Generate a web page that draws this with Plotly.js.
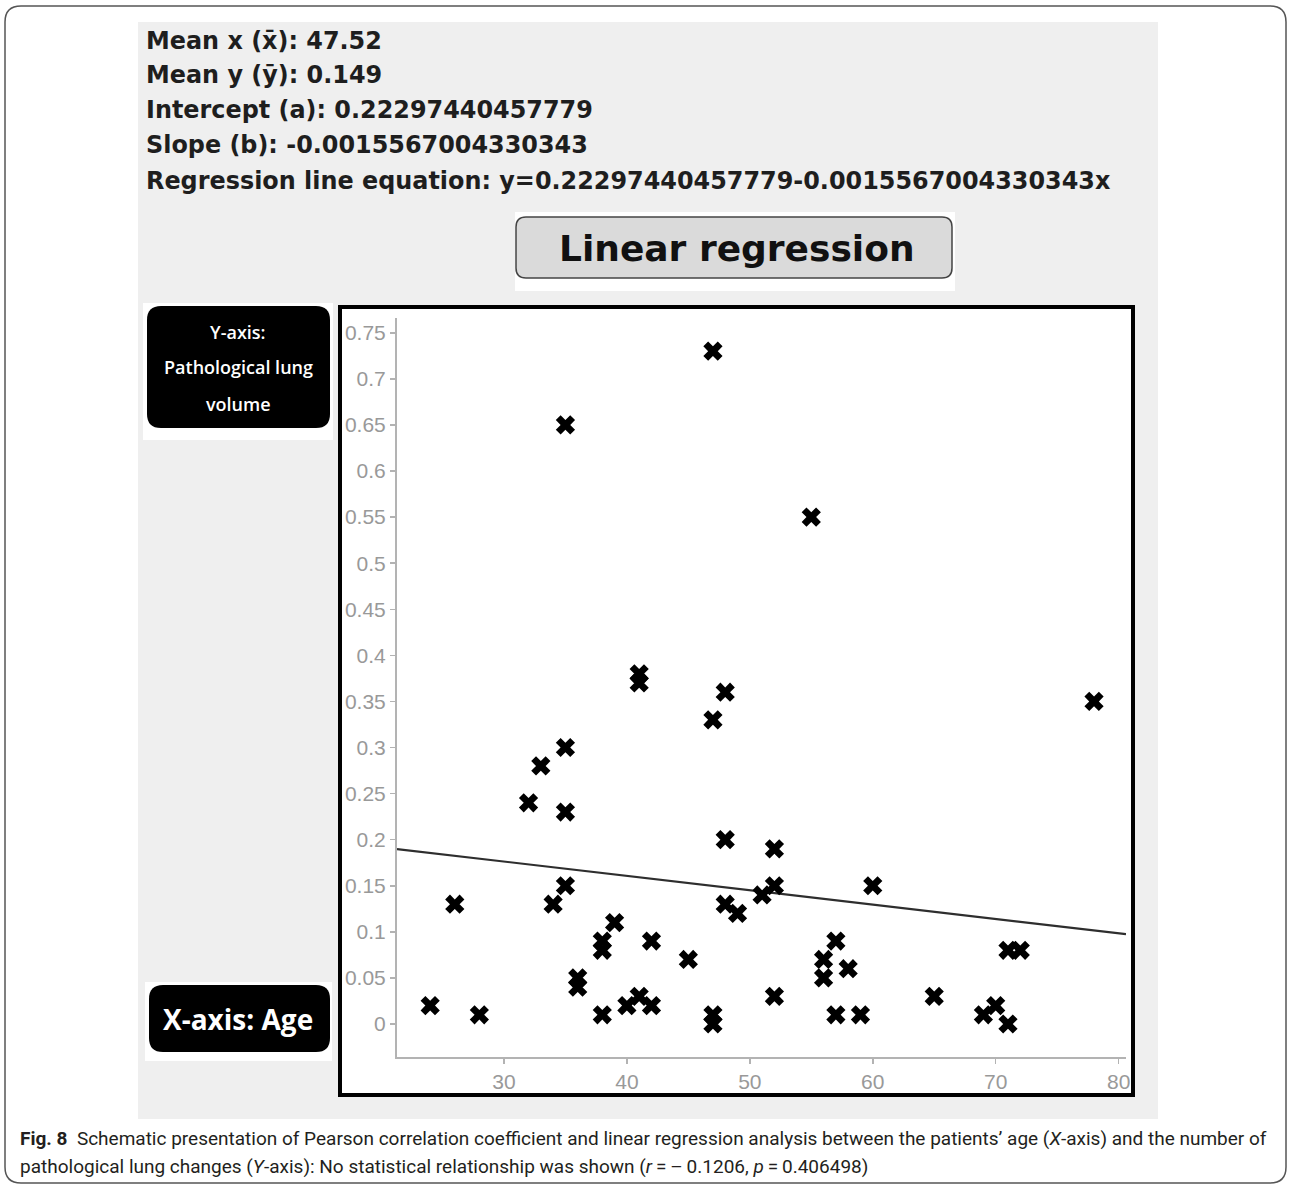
<!DOCTYPE html>
<html>
<head>
<meta charset="utf-8">
<script src="https://cdn.plot.ly/plotly-3.0.1.min.js"></script>
<style>
  html, body { margin: 0; padding: 0; background: #ffffff; }
  #chart { width: 1290px; height: 1187px; }
</style>
</head>
<body>
<div id="chart"></div>
<script>
// ---------------- DATA ----------------
const ages = [24, 26, 28, 32, 33, 34, 35, 35, 35, 35, 36, 36, 38, 38, 38, 39, 40, 41, 41, 41,
              42, 42, 45, 47, 47, 47, 47, 48, 48, 48, 49, 51, 52, 52, 52, 55, 56, 56, 57, 57,
              58, 59, 60, 65, 69, 70, 71, 71, 72, 78];
const lungVolume = [0.02, 0.13, 0.01, 0.24, 0.28, 0.13, 0.65, 0.30, 0.23, 0.15, 0.05, 0.04, 0.01, 0.09, 0.08, 0.11, 0.02, 0.03, 0.38, 0.37,
                    0.02, 0.09, 0.07, 0.73, 0.33, 0.01, 0.00, 0.36, 0.20, 0.13, 0.12, 0.14, 0.19, 0.15, 0.03, 0.55, 0.07, 0.05, 0.09, 0.01,
                    0.06, 0.01, 0.15, 0.03, 0.01, 0.02, 0.00, 0.08, 0.08, 0.35];
const meanX = '47.52';
const meanY = '0.149';
const interceptText = '0.22297440457779';
const slopeText = '-0.0015567004330343';
const intercept = 0.22297440457779;
const slope = -0.0015567004330343;
const xRange = [21.3, 80.6];
const yRange = [-0.0358, 0.766];
const xTickVals = [30, 40, 50, 60, 70, 80];
const xTickText = ['30', '40', '50', '60', '70', '80'];
const yTickVals = [0, 0.05, 0.1, 0.15, 0.2, 0.25, 0.3, 0.35, 0.4, 0.45, 0.5, 0.55, 0.6, 0.65, 0.7, 0.75];
const yTickText = ['0', '0.05', '0.1', '0.15', '0.2', '0.25', '0.3', '0.35', '0.4', '0.45', '0.5', '0.55', '0.6', '0.65', '0.7', '0.75'];
const statLines = [
  'Mean x (x̄): ' + meanX,
  'Mean y (ȳ): ' + meanY,
  'Intercept (a): ' + interceptText,
  'Slope (b): ' + slopeText,
  'Regression line equation: y=' + interceptText + slopeText + 'x'
];
const buttonText = 'Linear regression';
const yLabelLines = ['Y-axis:', 'Pathological lung', 'volume'];
const xLabelText = 'X-axis: Age';
const captionLine1 = '<b>Fig. 8</b>  Schematic presentation of Pearson correlation coefficient and linear regression analysis between the patients\u2019 age (<i>X</i>-axis) and the number of';
const captionLine2 = 'pathological lung changes (<i>Y</i>-axis): No statistical relationship was shown (<i>r</i>\u2009=\u2009\u2013\u20090.1206, <i>p</i>\u2009=\u20090.406498)';

// ---------------- LAYOUT HELPERS ----------------
const W = 1290, H = 1187;
const PL = 397, PR = 1126, PT = 318, PB = 1057;
const px = x => (x - PL) / (PR - PL);
const py = y => (PB - y) / (PB - PT);

function rect(x0, y0, x1, y1, fill, lineColor, lineWidth) {
  return { type: 'rect', xref: 'paper', yref: 'paper', layer: 'below',
    x0: px(x0), x1: px(x1), y0: py(y1), y1: py(y0),
    fillcolor: fill, line: { color: lineColor || 'rgba(0,0,0,0)', width: lineWidth || 0 } };
}
function roundRect(x0, y0, x1, y1, r, fill, lineColor, lineWidth) {
  const P = (x, y) => px(x) + ',' + py(y);
  const d = 'M' + P(x0 + r, y0) + ' L' + P(x1 - r, y0) + ' Q' + P(x1, y0) + ' ' + P(x1, y0 + r) +
            ' L' + P(x1, y1 - r) + ' Q' + P(x1, y1) + ' ' + P(x1 - r, y1) +
            ' L' + P(x0 + r, y1) + ' Q' + P(x0, y1) + ' ' + P(x0, y1 - r) +
            ' L' + P(x0, y0 + r) + ' Q' + P(x0, y0) + ' ' + P(x0 + r, y0) + ' Z';
  return { type: 'path', xref: 'paper', yref: 'paper', layer: 'below', path: d,
    fillcolor: fill, line: { color: lineColor || 'rgba(0,0,0,0)', width: lineWidth || 0 } };
}
function label(text, x, y, opts) {
  return Object.assign({ xref: 'paper', yref: 'paper', x: px(x), y: py(y), text: text,
    showarrow: false, xanchor: 'left', yanchor: 'middle' }, opts);
}

// ---------------- TRACES ----------------
const lineX = xRange.slice();
const lineY = lineX.map(x => intercept + slope * x);

const traces = [
  { type: 'scatter', mode: 'lines', x: lineX, y: lineY,
    line: { color: '#2e2e2e', width: 2.2 }, hoverinfo: 'skip', cliponaxis: false },
  { type: 'scatter', mode: 'markers', x: ages, y: lungVolume,
    marker: { symbol: 'x', size: 17, color: '#000000', line: { width: 0 } }, cliponaxis: false }
];

// ---------------- SHAPES ----------------
const shapes = [
  roundRect(5, 6, 1286, 1183, 16, '#ffffff', '#555555', 1.5),
  rect(138, 22, 1158, 1119, '#efefef'),
  rect(515, 212, 955, 291, '#ffffff'),
  roundRect(516, 217, 952, 278, 10, '#dadada', '#444444', 1.5),
  rect(143, 303, 333, 440, '#ffffff'),
  roundRect(147, 306, 330, 428, 14, '#000000'),
  rect(145, 982, 332, 1061, '#ffffff'),
  roundRect(149, 985, 330, 1052, 14, '#000000'),
  rect(340, 307, 1133, 1095, '#ffffff', '#000000', 4)
];

// ---------------- ANNOTATIONS ----------------
const statY = [41, 75, 110, 145, 181];
const annotations = [];
statLines.forEach((t, i) => {
  annotations.push(label('<b>' + t + '</b>', 144, statY[i],
    { font: { family: 'DejaVu Sans', size: 23.9, color: '#1e1e1e' } }));
});
annotations.push(label('<b>' + buttonText + '</b>', 737, 248,
  { xanchor: 'center', font: { family: 'DejaVu Sans', size: 36, color: '#111111' } }));
const yLabY = [332, 367, 404];
yLabelLines.forEach((t, i) => {
  annotations.push(label(t, 238, yLabY[i],
    { xanchor: 'center', font: { family: 'Open Sans', size: 18, weight: 600, color: '#ffffff' } }));
});
annotations.push(label(xLabelText, 238, 1019,
  { xanchor: 'center', font: { family: 'Open Sans', size: 28, weight: 700, color: '#ffffff' } }));
annotations.push(label(captionLine1, 18, 1138,
  { font: { family: 'Roboto, Liberation Sans, sans-serif', size: 19, color: '#231f20' } }));
annotations.push(label(captionLine2, 18, 1166,
  { font: { family: 'Roboto, Liberation Sans, sans-serif', size: 19, color: '#231f20' } }));

// ---------------- LAYOUT ----------------
const axisCommon = {
  showgrid: false, zeroline: false, showline: true, linecolor: '#b3b3b3', linewidth: 2,
  ticks: 'outside', ticklen: 5, tickwidth: 1.5, tickcolor: '#b3b3b3',
  tickfont: { family: 'Liberation Sans, Arial, sans-serif', size: 21, color: '#999999' },
  fixedrange: true
};
const layout = {
  width: W, height: H,
  margin: { l: PL, r: W - PR, t: PT, b: H - PB, pad: 0 },
  paper_bgcolor: '#ffffff', plot_bgcolor: 'rgba(0,0,0,0)',
  showlegend: false,
  xaxis: Object.assign({}, axisCommon, { range: xRange, tickmode: 'array', tickvals: xTickVals, ticktext: xTickText }),
  yaxis: Object.assign({}, axisCommon, { range: yRange, tickmode: 'array', tickvals: yTickVals, ticktext: yTickText }),
  shapes: shapes,
  annotations: annotations
};

Plotly.newPlot('chart', traces, layout, { staticPlot: true, displayModeBar: false });
</script>
</body>
</html>
